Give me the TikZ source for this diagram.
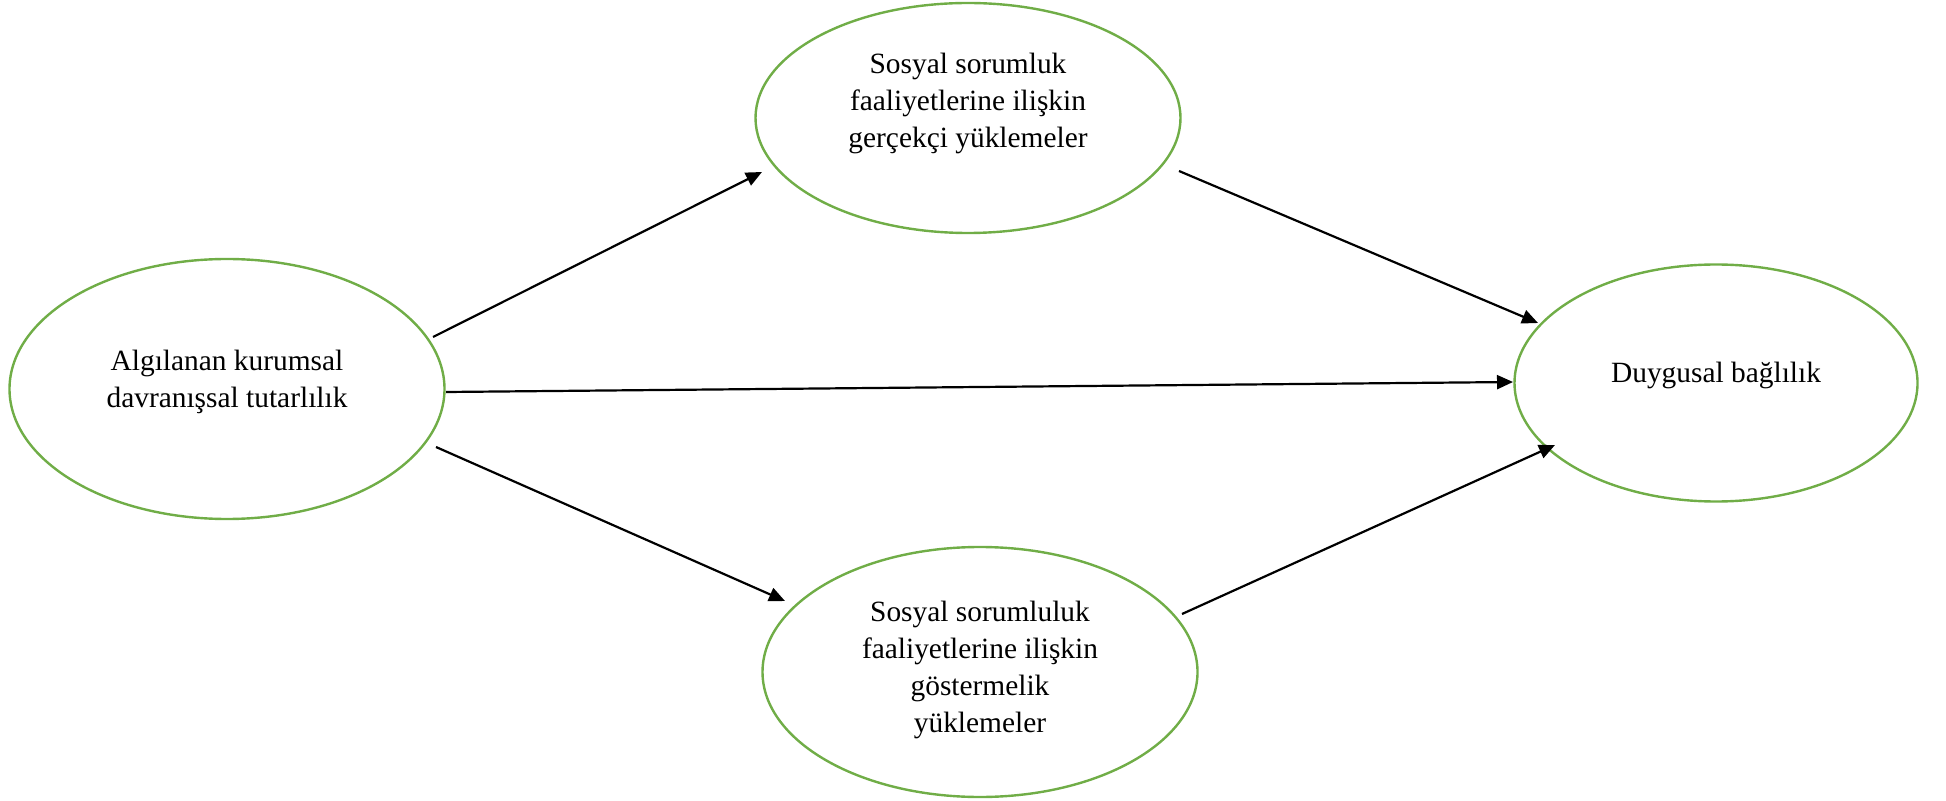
\documentclass[tikz,border=0pt]{standalone}
\usepackage{fontspec}
\setmainfont{Liberation Serif}
\usetikzlibrary{shapes.geometric,arrows.meta}
\definecolor{ellgreen}{HTML}{70AD47}
\tikzset{
  ell/.style={ellipse, draw=ellgreen, line width=1.2pt, inner sep=0pt},
  txt/.style={align=center, font=\fontsize{14.7pt}{18.5pt}\selectfont, inner sep=0pt},
  arr/.style={line width=1.1pt, -{Triangle[length=8pt,width=7pt]}}
}
\begin{document}
\begin{tikzpicture}[x=0.5pt,y=-0.5pt]
\useasboundingbox (0,0) rectangle (1946,801);
% ellipses
\node[ell, minimum width=217.5pt, minimum height=130pt] (A) at (227,389) {};
\node[ell, minimum width=212.5pt, minimum height=115pt] (B) at (968,118) {};
\node[ell, minimum width=217.5pt, minimum height=125pt] (C) at (980,672) {};
\node[ell, minimum width=201.5pt, minimum height=118.5pt] (D) at (1716,383) {};
% texts
\node[txt] (At) at (227,382) {Algılanan kurumsal\\davranışsal tutarlılık};
\node[txt] (Bt) at (968,103.5) {Sosyal sorumluk\\faaliyetlerine ilişkin\\gerçekçi yüklemeler};
\node[txt] (Ct) at (980,670) {Sosyal sorumluluk\\faaliyetlerine ilişkin\\göstermelik\\yüklemeler};
\node[txt] (Dt) at (1716,375.5) {Duygusal bağlılık};
% connector end points
\coordinate (a1) at (433,337);
\coordinate (a2) at (446,392);
\coordinate (a3) at (436,447);
\coordinate (b1) at (762,172);
\coordinate (b2) at (1179,171);
\coordinate (c1) at (785,601);
\coordinate (c2) at (1182,614);
\coordinate (d1) at (1538,323);
\coordinate (d2) at (1513,382);
\coordinate (d3) at (1555,445);
% connectors
\draw[arr] (a1) -- (b1);
\draw[arr] (a2) -- (d2);
\draw[arr] (a3) -- (c1);
\draw[arr] (b2) -- (d1);
\draw[arr] (c2) -- (d3);
\end{tikzpicture}
\end{document}
